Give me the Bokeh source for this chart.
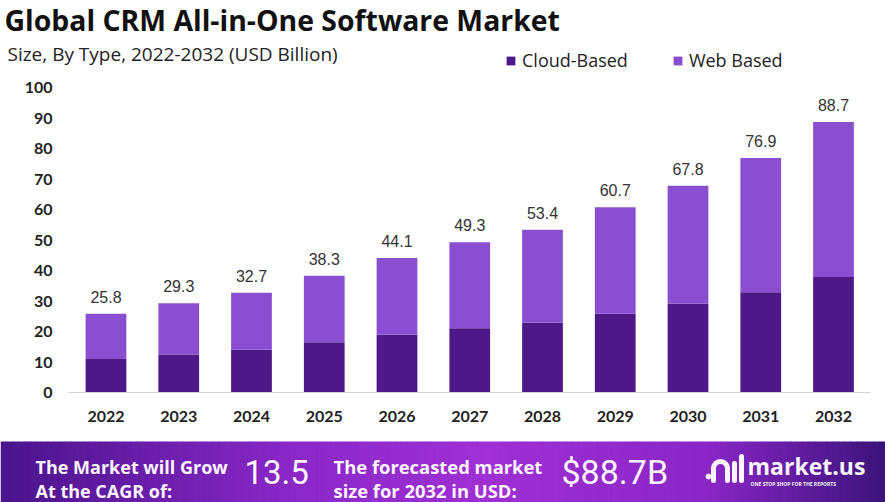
from bokeh.plotting import figure
from bokeh.models import Range1d, Label, Legend, LegendItem, ColumnDataSource, LinearAxis
from bokeh.embed import file_html
from bokeh.resources import INLINE
from bokeh.core.properties import value

# ---------------- data ----------------
years = ["2022", "2023", "2024", "2025", "2026", "2027", "2028", "2029", "2030", "2031", "2032"]
cloud_based = [11.0, 12.5, 14.0, 16.5, 18.9, 21.1, 22.9, 25.8, 29.1, 32.9, 37.9]
web_based = [14.8, 16.8, 18.7, 21.8, 25.2, 28.2, 30.5, 34.9, 38.7, 44.0, 50.8]
totals = [25.8, 29.3, 32.7, 38.3, 44.1, 49.3, 53.4, 60.7, 67.8, 76.9, 88.7]
total_labels = ["25.8", "29.3", "32.7", "38.3", "44.1", "49.3", "53.4", "60.7", "67.8", "76.9", "88.7"]
y_ticks = [0, 10, 20, 30, 40, 50, 60, 70, 80, 90, 100]
series_names = ["Cloud-Based", "Web Based"]
series_colors = ["#4e1888", "#8a4fd0"]

title_text = "Global CRM All-in-One Software Market"
subtitle_text = "Size, By Type, 2022-2032 (USD Billion)"
cagr_value = "13.5"
forecast_value = "$88.7B"

# ---------------- geometry (pixel layout) ----------------
W, H = 885, 502
X0, SX = 105.5, 72.75   # pixel centre of first category, pixels per category
Y0, SY = 392.0, 3.05    # pixel row of value 0, pixels per unit


def dx(px):
    return (px - X0) / SX


def dy(py):
    return (Y0 - py) / SY


xi = list(range(len(years)))
src = ColumnDataSource(dict(x=xi, cloud=cloud_based, web=web_based,
                            total=totals, label=total_labels))

p = figure(width=W, height=H, x_range=Range1d(dx(0), dx(W)), y_range=Range1d(dy(H), dy(0)),
           output_backend="svg", toolbar_location=None, min_border=0,
           x_axis_location=None, y_axis_location=None)
p.outline_line_color = None
p.xgrid.grid_line_color = None
p.ygrid.grid_line_color = None
p.background_fill_color = "white"
p.border_fill_color = "white"

# ---------------- banner background ----------------
stops = [(0.0, (74, 20, 140)), (0.33, (138, 40, 200)), (0.55, (160, 48, 212)),
         (0.8, (138, 38, 198)), (1.0, (58, 20, 122))]


def grad(t):
    for (t0, c0), (t1, c1) in zip(stops[:-1], stops[1:]):
        if t0 <= t <= t1:
            f = (t - t0) / (t1 - t0)
            return "#%02x%02x%02x" % tuple(int(c0[k] + (c1[k] - c0[k]) * f) for k in range(3))
    return "#%02x%02x%02x" % stops[-1][1]


n = 150
b_left = [dx(W * i / n) for i in range(n)]
b_right = [dx(W * (i + 1) / n + 0.7) for i in range(n)]
b_cols = [grad((i + 0.5) / n) for i in range(n)]
p.quad(left=b_left, right=b_right, bottom=dy(H), top=dy(441), color=b_cols, line_color=None)

# ---------------- bars ----------------
rs = p.vbar_stack(["cloud", "web"], x="x", width=0.56, color=series_colors,
                  line_color=None, source=src)

p.text(x="x", y="total", text="label", source=src, text_align="center",
       text_baseline="bottom", y_offset=-11, text_font=value("Liberation Sans"),
       text_font_size="16px", text_color="#333333")

# ---------------- axes ----------------
yax = LinearAxis(fixed_location=dx(69), ticker=y_ticks)
yax.axis_line_color = None
yax.major_tick_line_color = None
yax.minor_tick_line_color = None
yax.major_label_standoff = 11
yax.major_label_text_font = "Lato"
yax.major_label_text_font_style = "bold"
yax.major_label_text_font_size = "16px"
yax.major_label_text_color = "#222222"
p.add_layout(yax, "left")

xax = LinearAxis(fixed_location=0, ticker=xi,
                 major_label_overrides={i: y for i, y in zip(xi, years)},
                 bounds=(dx(68), dx(870)))
xax.axis_line_color = "#d4d4d4"
xax.axis_line_width = 1
xax.major_tick_line_color = None
xax.minor_tick_line_color = None
xax.major_label_standoff = 12
xax.major_label_text_font = "Lato"
xax.major_label_text_font_style = "bold"
xax.major_label_text_font_size = "16px"
xax.major_label_text_color = "#222222"
p.add_layout(xax, "below")

# ---------------- legend ----------------
legend = Legend(items=[LegendItem(label=series_names[0], renderers=[rs[0]]),
                       LegendItem(label=series_names[1], renderers=[rs[1]])],
                orientation="horizontal", location=(505, H - 72),
                border_line_color=None, background_fill_alpha=0,
                padding=0, margin=0, spacing=44, label_standoff=6,
                glyph_width=11, glyph_height=11,
                label_text_font="Open Sans", label_text_font_size="18px",
                label_text_color="#222222")
p.add_layout(legend, "center")

# ---------------- title texts ----------------
p.add_layout(Label(x=4, y=H - 19, x_units="screen", y_units="screen", text=title_text,
                   text_font="Open Sans", text_font_style="bold", text_font_size="28.4px",
                   text_color="#111111", text_baseline="middle", text_align="left"))
p.add_layout(Label(x=7, y=H - 53, x_units="screen", y_units="screen", text=subtitle_text,
                   text_font="Open Sans", text_font_size="19px",
                   text_color="#222222", text_baseline="middle", text_align="left"))

# ---------------- banner texts ----------------
white = "#fbf4ff"
for txt, x, py, size, font, style in [
    ("The Market will Grow", 35, 466, "18px", "Open Sans", "bold"),
    ("At the CAGR of:", 35, 490, "18px", "Open Sans", "bold"),
    (cagr_value, 244, 471, "33px", "Roboto", "normal"),
    ("The forecasted market", 333, 466, "18.4px", "Open Sans", "bold"),
    ("size for 2032 in USD:", 333, 490, "18.4px", "Open Sans", "bold"),
    (forecast_value, 561, 471, "34px", "Roboto", "normal"),
    ("market.us", 747, 465, "23px", "Open Sans", "bold"),
    ("ONE STOP SHOP FOR THE REPORTS", 750, 483, "5px", "Open Sans", "bold"),
]:
    p.add_layout(Label(x=x, y=H - py, x_units="screen", y_units="screen", text=txt,
                       text_font=font, text_font_style=style, text_font_size=size,
                       text_color=white, text_baseline="middle", text_align="left"))

# logo icon
p.scatter(x=[dx(708)], y=[dy(476)], size=5, color=white)
p.segment(x0=[dx(713), dx(727), dx(734), dx(741)], y0=[dy(468), dy(468), dy(480), dy(480)],
          x1=[dx(713), dx(727), dx(734), dx(741)], y1=[dy(480), dy(480), dy(463), dy(456)],
          line_color=white, line_width=5, line_cap="round")
p.arc(x=[dx(720)], y=[dy(468)], radius=7 / SX, start_angle=0, end_angle=3.1416,
      line_color=white, line_width=5)

open("out.html", "w").write(file_html(p, INLINE))
